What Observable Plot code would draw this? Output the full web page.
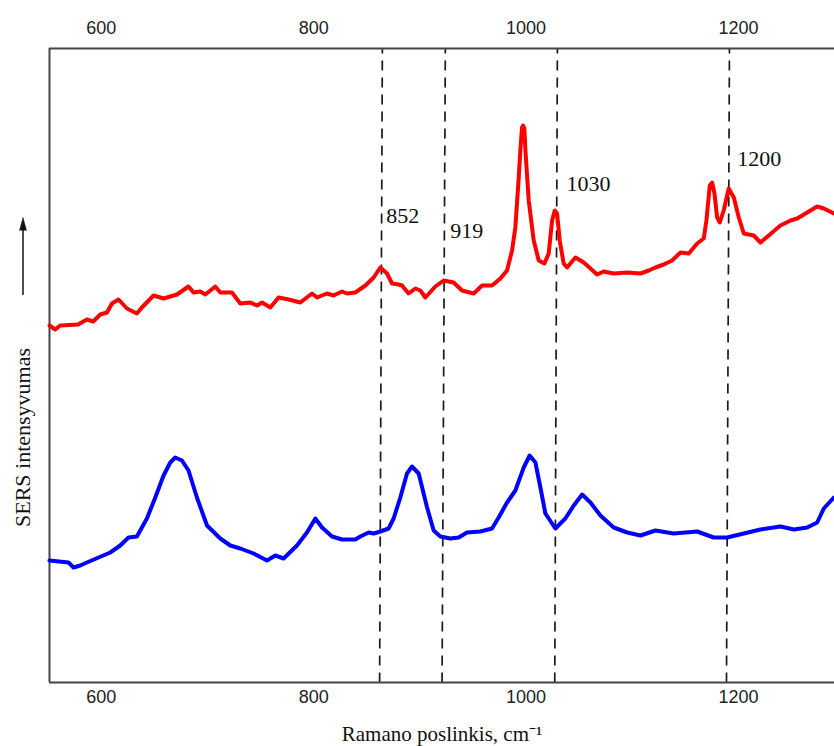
<!DOCTYPE html>
<html><head><meta charset="utf-8">
<script src="https://cdn.jsdelivr.net/npm/d3@7"></script>
<script src="https://cdn.jsdelivr.net/npm/@observablehq/plot@0.6"></script>
<style>body{margin:0;background:#fff} svg{display:block}</style>
</head><body><div id="chart"></div>
<script>
// Ramano poslinkis (cm-1) and SERS intensity (arbitrary units)
const redShift = [551.3, 556.7, 561.4, 578.3, 586.5, 592.5, 599.1, 605.4, 610.1, 616.3,
  624.2, 633.6, 638.3, 649.3, 658.7, 671.3, 682.2, 686.9, 693.2, 698,
  707.4, 712.1, 723.1, 730.9, 740.3, 746.7, 751.4, 759.2, 767, 776.4,
  787.4, 798.5, 803.2, 812.6, 818.8, 826.7, 831.4, 839.2, 848.7, 856.5,
  862.8, 869.1, 873.8, 880, 883.2, 889.4, 895.8, 900.5, 905.2, 914.6,
  922.4, 931.8, 939.7, 950.7, 958.6, 968, 975.8, 982.1, 986.8, 989.9,
  993.1, 994.6, 996.2, 997.2, 998.4, 999.4, 1002.5, 1007.2, 1011.9, 1017.3,
  1021.3, 1024.5, 1027, 1029.2, 1031.7, 1035.4, 1038.6, 1046.5, 1054.3, 1057.5,
  1066.9, 1073.1, 1082.5, 1095.2, 1107.7, 1115.5, 1121.8, 1129.6, 1137.5, 1145.4,
  1153.2, 1161.1, 1167.3, 1169.8, 1173, 1175.2, 1177.4, 1179.9, 1182.4, 1186.1,
  1190.8, 1195.6, 1200.3, 1205, 1214.4, 1220.7, 1228.5, 1239.5, 1249, 1255.3,
  1264.7, 1274.1, 1280.3, 1289.8];
const redIntensity = [357, 353, 357, 358, 363, 361, 368, 370, 379, 383,
  374, 369, 375, 387, 384, 388, 396, 390, 391, 388,
  396, 390, 390, 379, 380, 377, 380, 375, 385, 383,
  380, 389, 385, 389, 387, 391, 389, 390, 397, 405,
  415, 409, 399, 398, 397, 389, 394, 392, 385, 396,
  402, 400, 392, 389, 397, 397, 404, 412, 432, 455,
  505, 532, 555, 557, 554, 532, 482, 442, 422, 419,
  429, 462, 472, 469, 442, 419, 415, 425, 420, 417,
  408, 411, 409, 410, 409, 412, 415, 418, 422, 430,
  429, 439, 444, 462, 497, 500, 489, 465, 460, 472,
  494, 485, 465, 449, 447, 440, 447, 457, 462, 464,
  470, 476, 474, 469];

const blueShift = [551.3, 569.2, 573.9, 580.2, 586.5, 597.5, 608.5, 617.9, 625.7, 633.6,
  643, 650.9, 658.7, 665, 669.7, 676, 682.2, 690.1, 699.6, 712.1,
  721.5, 730.9, 743.5, 756.1, 763.9, 771.7, 784.3, 793.7, 801.6, 807.9,
  817.3, 826.7, 839.2, 844, 851.8, 856.5, 862.8, 870.6, 875.3, 881.6,
  887.9, 892.6, 898.9, 906.8, 913, 919.3, 928.7, 936.5, 944.4, 957,
  968, 974.2, 982.1, 989.9, 997.8, 1003.4, 1008.8, 1013.5, 1018.2, 1027.6,
  1037, 1044.9, 1052.8, 1060.6, 1070, 1082.5, 1095.2, 1107.7, 1121.8, 1139,
  1161.1, 1176.7, 1189.3, 1205, 1220.7, 1239.5, 1252.1, 1264.7, 1274.1, 1280.3,
  1289.8];
const blueIntensity = [122, 120, 115, 117, 120, 125, 130, 137, 145, 146,
  164, 185, 207, 220, 225, 222, 212, 185, 157, 144,
  137, 134, 129, 122, 127, 124, 137, 150, 164, 155,
  146, 143, 143, 146, 150, 149, 151, 154, 164, 185,
  209, 216, 209, 175, 152, 146, 144, 145, 150, 151,
  154, 165, 180, 192, 215, 227, 220, 195, 169, 154,
  164, 177, 188, 180, 167, 155, 150, 147, 152, 149,
  151, 145, 145, 149, 153, 156, 153, 155, 160, 174,
  185];

// Marked peaks (label text, dashed line ends, label anchor)
const peakLabels = ["852", "919", "1030", "1200"];
const peakLineBottom = [862.1, 920.9, 1027.0, 1188.7];
const peakLineTop = [864.7, 924.0, 1029.5, 1191.5];
const peakLabelShift = [868.4, 928.7, 1038.0, 1198.8];
const peakLabelIntensity = [460, 445, 492, 517];

const xTicks = [600, 800, 1000, 1200];
const xDomain = [551.3, 1290.4];
const yDomain = [0, 634];
const yTitle = "SERS intensyvumas";
const yTitleAt = [245];
const arrowSpan = [387, 452];
const xTitle = "Ramano poslinkis, cm\u207B\u00B9";

const red = redShift.map((x, i) => ({x, y: redIntensity[i]}));
const blue = blueShift.map((x, i) => ({x, y: blueIntensity[i]}));
const peaks = peakLabels.map((label, i) => ({
  label, bottom: peakLineBottom[i], top: peakLineTop[i],
  lx: peakLabelShift[i], ly: peakLabelIntensity[i]
}));

const plot = Plot.plot({
  width: 834, height: 746,
  marginLeft: 49, marginRight: 0, marginTop: 48, marginBottom: 64,
  style: {background: "#fff", fontFamily: "Liberation Sans", color: "#222"},
  x: {domain: xDomain},
  y: {domain: yDomain, axis: null},
  marks: [
    Plot.axisX(xTicks, {anchor: "bottom", tickSize: 0, tickPadding: 8, fontSize: 18, fill: "#222", label: null, tickFormat: d => `${d}`}),
    Plot.axisX(xTicks, {anchor: "top", tickSize: 0, tickPadding: 15, fontSize: 18, fill: "#222", label: null, tickFormat: d => `${d}`}),
    Plot.link(peaks, {x1: "bottom", y1: () => yDomain[0], x2: "top", y2: () => yDomain[1], stroke: "#1a1a1a", strokeWidth: 1.7, strokeDasharray: "10,7"}),
    Plot.ruleY([yDomain[0], yDomain[1]], {stroke: "#444", strokeWidth: 2}),
    Plot.ruleX([xDomain[0]], {stroke: "#444", strokeWidth: 2}),
    Plot.line(red, {x: "x", y: "y", stroke: "#ff0000", strokeWidth: 4, strokeLinejoin: "round"}),
    Plot.line(blue, {x: "x", y: "y", stroke: "#0000ff", strokeWidth: 4, strokeLinejoin: "round"}),
    Plot.text(peaks, {x: "lx", y: "ly", text: "label", textAnchor: "start", lineAnchor: "bottom", fontFamily: "Liberation Serif", fontSize: 22, fill: "#111"}),
    Plot.text([yTitle], {frameAnchor: "left", y: () => yTitleAt[0], text: d => d, rotate: -90, dx: -27, textAnchor: "middle", lineAnchor: "middle", fontFamily: "Liberation Serif", fontSize: 22, fill: "#111"}),
    Plot.ruleX([xDomain[0]], {y1: arrowSpan[0], y2: arrowSpan[1], dx: -26.5, stroke: "#111", strokeWidth: 1.5}),
    Plot.vector([arrowSpan[1]], {frameAnchor: "left", y: d => d, dx: -26.5, length: 13, r: 3.5, rotate: 0, shape: "spike", anchor: "start", fill: "#111", stroke: "#111", strokeWidth: 0.5}),
    Plot.text([xTitle], {frameAnchor: "bottom", text: d => d, dy: 52, lineAnchor: "middle", fontFamily: "Liberation Serif", fontSize: 21, fill: "#111"})
  ]
});
document.getElementById("chart").appendChild(plot);
</script>
</body></html>
